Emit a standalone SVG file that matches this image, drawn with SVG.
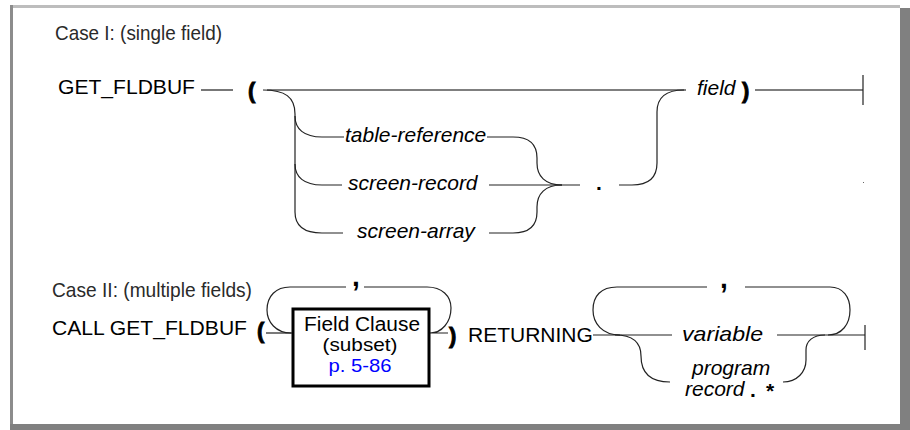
<svg xmlns="http://www.w3.org/2000/svg" width="910" height="430" viewBox="0 0 910 430">
<style>
.t{font-family:"Liberation Sans",Arial,sans-serif;font-size:21px;fill:#000}
.i{font-style:italic}
.b{font-weight:bold}
.p{font-family:"Liberation Sans",Arial,sans-serif;font-weight:bold;font-size:22px;fill:#000;stroke:#000;stroke-width:0.9}
.cm{font-family:"Liberation Sans",Arial,sans-serif;font-weight:bold;font-size:28px;fill:#000}
.c{font-family:"Liberation Sans Narrow","Liberation Sans",Arial,sans-serif;font-size:21px;fill:#2a2a2a}
.ln{fill:none;stroke:#222;stroke-width:1.2}
.mn{fill:none;stroke:#555;stroke-width:1.6}
</style>
<rect width="910" height="430" fill="#fff"/>
<g id="frame">
<rect x="10" y="5" width="890" height="3" fill="#bdbdbd"/>
<rect x="10" y="5" width="3" height="420" fill="#8c8c8c"/>
<rect x="900" y="8" width="10" height="422" fill="#808080"/>
<rect x="10" y="424" width="900" height="6" fill="#808080"/>
</g>
<g id="connectors">
<path class="mn" d="M201,90 H233"/>
<path class="mn" d="M267,90 H686"/>
<path class="ln" d="M263,90 C285,90 295,97 295,114 V212 C295,226 304,233 322,233 H343"/>
<path class="ln" d="M295,116 C295,129 304,137 322,137 H344"/>
<path class="ln" d="M295,164 C295,177 304,185 322,185 H342"/>
<path class="ln" d="M487,137 H513 C530,137 537,145 537,158 V163 C537,176 545,185 562,185"/>
<path class="ln" d="M489,233 H513 C530,233 537,225 537,212 V207 C537,194 545,185 562,185"/>
<path class="ln" d="M489,185 H580"/>
<path class="ln" d="M619,185 H632 C650,185 657,177 657,163 V112 C657,98 665,90 684,90"/>
<path class="mn" d="M755,90 H863"/>
<path class="ln" d="M863,75 V105"/>
<path class="ln" d="M266,333 H292"/>
<path class="ln" d="M291,333 C276,333 267,322 267,310 C267,296 276,287 290,287 H346"/>
<path class="ln" d="M364,287 H427 C442,287 451,296 451,308 C451,322 442,333 430,333 H448"/>
<path class="ln" d="M593,335 H672"/>
<path class="ln" d="M620,335 C602,335 593,323 593,310 C593,296 601,287 617,287 H707"/>
<path class="ln" d="M745,287 H830 C843,287 850,297 850,310 C850,324 842,335 828,335"/>
<path class="ln" d="M777,335 H865"/>
<path class="ln" d="M865,325 V350"/>
<path class="ln" d="M615,335 C633,335 641,343 641,356 C641,372 650,382 670,382"/>
<path class="ln" d="M783,382 C797,382 806,372 806,360 V350 C806,341 813,335 825,335"/>
</g>
<rect x="863" y="182" width="1" height="1" fill="#666"/>
<g id="case1-title"><text class="c" x="55" y="40" textLength="167" lengthAdjust="spacingAndGlyphs">Case I: (single field)</text></g>
<g id="get-fldbuf"><text class="t" x="58" y="94" textLength="137" lengthAdjust="spacingAndGlyphs">GET_FLDBUF</text></g>
<g id="lparen1"><text class="p" x="248" y="98">(</text></g>
<g id="table-reference"><text class="t i" x="345" y="142">table-reference</text></g>
<g id="screen-record"><text class="t i" x="348" y="190">screen-record</text></g>
<g id="screen-array"><text class="t i" x="357" y="238">screen-array</text></g>
<g id="dot1"><text class="t b" x="596" y="190">.</text></g>
<g id="field"><text class="t i" x="697" y="95">field</text></g>
<g id="rparen1"><text class="p" x="742" y="98">)</text></g>
<g id="case2-title"><text class="c" x="52" y="297" textLength="200" lengthAdjust="spacingAndGlyphs">Case II: (multiple fields)</text></g>
<g id="call-get-fldbuf"><text class="t" x="52" y="335" textLength="195" lengthAdjust="spacingAndGlyphs">CALL GET_FLDBUF</text></g>
<g id="lparen2"><text class="p" x="257" y="338">(</text></g>
<g id="field-clause">
<rect x="293" y="309" width="136" height="77" fill="#fff" stroke="#000" stroke-width="3"/>
<text class="t" x="362" y="331" text-anchor="middle" style="font-size:20px" textLength="116" lengthAdjust="spacingAndGlyphs">Field Clause</text>
<text class="t" x="360" y="351" text-anchor="middle" style="font-size:18.5px" textLength="75" lengthAdjust="spacingAndGlyphs">(subset)</text>
<text class="t" x="360" y="372" text-anchor="middle" style="font-size:18.5px;fill:#0000ff" textLength="63" lengthAdjust="spacingAndGlyphs">p. 5-86</text>
</g>
<g id="comma1"><text class="cm" x="352" y="286">,</text></g>
<g id="rparen2"><text class="p" x="449" y="343">)</text></g>
<g id="returning"><text class="t" x="468" y="342">RETURNING</text></g>
<g id="comma2"><text class="cm" x="720" y="288">,</text></g>
<g id="variable"><text class="t i" x="682" y="341" textLength="81" lengthAdjust="spacingAndGlyphs">variable</text></g>
<g id="program-record">
<text class="t i" x="692" y="375">program</text>
<text class="t i" x="685" y="396">record</text>
<text class="t b" x="750" y="397">.</text>
<text class="t b" x="766" y="398">*</text>
</g>
</svg>
